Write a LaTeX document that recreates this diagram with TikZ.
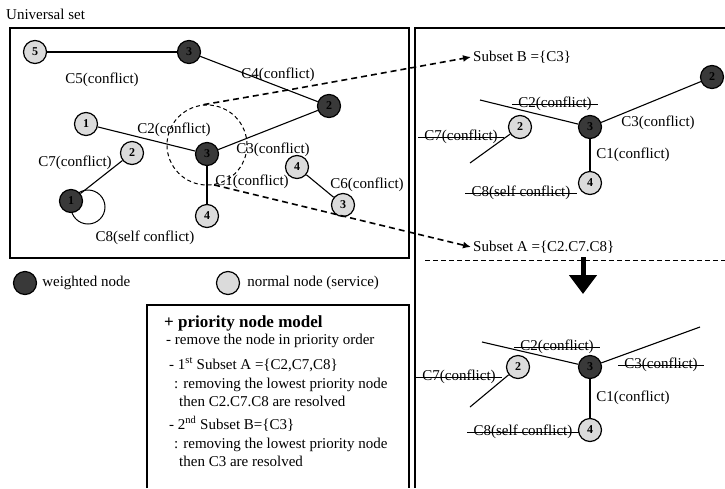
\documentclass[tikz,border=0pt]{standalone}
\usepackage{fontspec}
\setmainfont{Liberation Serif}
\usetikzlibrary{arrows.meta,positioning}

\begin{document}
\begin{tikzpicture}[x=1pt,y=-1pt,font=\fontsize{15}{17}\selectfont]
\tikzset{wnode/.style={circle,draw,line width=1.2pt,fill=gray!45!black,minimum size=23pt,inner sep=0pt,font=\fontsize{12}{12}\selectfont\bfseries},
         nnode/.style={circle,draw,line width=1.2pt,fill=gray!28,minimum size=23pt,inner sep=0pt,font=\fontsize{12}{12}\selectfont\bfseries},
         edge/.style={line width=1.1pt},
         lbl/.style={inner sep=1pt},
         struck/.style={inner sep=1pt},
         strike/.style={line width=0.9pt},
         subarrow/.style={line width=1.6pt,dash pattern=on 6pt off 4pt,-{Latex[length=8pt,width=7pt]}},
         ptext/.style={anchor=base west,inner sep=0pt}}

\useasboundingbox (0,0) rectangle (725,488);

% universal set
\node[anchor=west,inner sep=0pt] (uset) at (6,14) {Universal set};
\draw[line width=1.4pt] (10,28) rectangle (409,258);

\node[circle,draw,line width=1pt,minimum size=34pt,inner sep=0pt] (loop8) at (88,207) {};
\node[nnode] (a5) at (35,52) {5};
\node[wnode] (a3) at (189,52) {3};
\node[wnode] (a2) at (329,106) {2};
\node[nnode] (a1) at (86,124) {1};
\node[wnode] (ac) at (207,154) {3};
\node[nnode] (a2l) at (132,153) {2};
\node[wnode] (a1l) at (71,201) {1};
\node[nnode] (a4) at (207,216) {4};
\node[nnode] (a4r) at (297,167) {4};
\node[nnode] (a3r) at (343,205) {3};

\draw[edge] (a5) -- (a3);
\draw[edge] (a3) -- (a2);
\draw[edge] (a1) -- (ac);
\draw[edge] (ac) -- (a2);
\draw[edge] (ac) -- (a4);
\draw[edge] (a2l) -- (a1l);
\draw[edge] (a4r) -- (a3r);

\node[lbl] (c5) at (102,80) {C5(conflict)};
\node[lbl] (c4) at (278,75) {C4(conflict)};
\node[lbl] (c2) at (174,130) {C2(conflict)};
\node[lbl] (c3) at (273,150) {C3(conflict)};
\node[lbl] (c1) at (252,182) {C1(conflict)};
\node[lbl] (c7) at (75,163) {C7(conflict)};
\node[lbl] (c8) at (145,238) {C8(self conflict)};
\node[lbl] (c6) at (367,185) {C6(conflict)};

\node[circle,draw,line width=1pt,dash pattern=on 4pt off 3pt,minimum size=80pt,inner sep=0pt] (zone) at (207,145) {};

% legend
\node[wnode] (lw) at (25,283) {};
\node[right=5pt of lw,inner sep=0pt] (lwt) {weighted node};
\node[nnode] (ln) at (228,283) {};
\node[right=7pt of ln,inner sep=0pt] (lnt) {normal node (service)};

% priority model
\draw[line width=1.2pt] (147,488) -- (147,305) -- (409,305) -- (409,488);
\node[ptext,font=\fontsize{17}{19}\selectfont\bfseries] (pt) at (164,327) {+ priority node model};
\node[ptext] (p1) at (166,344) {- remove the node in priority order};
\node[ptext] (p2) at (169,369) {- 1\textsuperscript{st} Subset A =\{C2,C7,C8\}};
\node[ptext] (p3) at (174,388) {: removing the lowest priority node};
\node[ptext] (p4) at (179,406) {then C2.C7.C8 are resolved};
\node[ptext] (p5) at (169,429) {- 2\textsuperscript{nd} Subset B=\{C3\}};
\node[ptext] (p6) at (174,448) {: removing the lowest priority node};
\node[ptext] (p7) at (179,466) {then C3 are resolved};

% right panel
\draw[line width=1.6pt] (415,488) -- (415,28) -- (725,28);
\node[anchor=west,inner sep=2pt] (subB) at (471,57) {Subset B =\{C3\}};
\node[anchor=west,inner sep=2pt] (subA) at (471,247) {Subset A =\{C2.C7.C8\}};
\draw[subarrow] (zone.95) .. controls (300,88) .. (subB.west);
\draw[subarrow] (zone.-80) -- (subA.west);

\draw[line width=1pt,dash pattern=on 5pt off 3pt] (425,260) -- (725,260);
\coordinate (dtop) at (583,257);
\coordinate (dbot) at (583,294);
\draw[line width=5pt,-{Triangle[length=19pt,width=27pt]}] (dtop) -- (dbot);

% subset B step
\node[wnode] (b2) at (712,77) {2};
\node[wnode] (bc) at (590,127) {3};
\node[nnode] (b2l) at (520,127) {2};
\node[nnode] (b4) at (590,183) {4};
\coordinate (b2end) at (480,100);
\coordinate (b7end) at (470,163);
\draw[edge] (b2end) -- (bc);
\draw[edge] (bc) -- (b2);
\draw[edge] (bc) -- (b4);
\draw[edge] (b2l) -- (b7end);
\node[struck] (bl2) at (555,104) {C2(conflict)};
\node[lbl] (bl3) at (658,123) {C3(conflict)};
\node[lbl] (bl1) at (633,155) {C1(conflict)};
\node[struck] (bl7) at (461,137) {C7(conflict)};
\node[struck] (bl8) at (521,193) {C8(self conflict)};

% subset A step
\node[wnode] (dc) at (590,367) {3};
\node[nnode] (d2l) at (518,367) {2};
\node[nnode] (d4) at (590,430) {4};
\coordinate (d2end) at (482,342);
\coordinate (d3end) at (700,327);
\coordinate (d7end) at (470,407);
\draw[edge] (d2end) -- (dc);
\draw[edge] (dc) -- (d3end);
\draw[edge] (dc) -- (d4);
\draw[edge] (d2l) -- (d7end);
\node[struck] (dl2) at (557,347) {C2(conflict)};
\node[struck] (dl3) at (661,365) {C3(conflict)};
\node[struck] (dl7) at (459,377) {C7(conflict)};
\node[lbl] (dl1) at (633,398) {C1(conflict)};
\node[struck] (dl8) at (523,432) {C8(self conflict)};

% removed conflicts
\foreach \s in {bl2,bl7,bl8,dl2,dl3,dl7,dl8}
  \draw[strike] ([xshift=-5pt]\s.west) -- ([xshift=5pt]\s.east);
\end{tikzpicture}
\end{document}
